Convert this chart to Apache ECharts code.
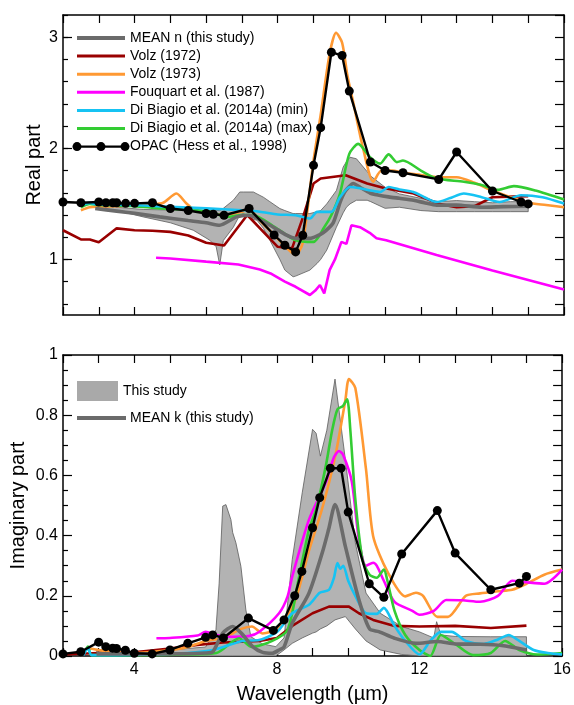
<!DOCTYPE html>
<html>
<head>
<meta charset="utf-8">
<script src="https://cdn.jsdelivr.net/npm/echarts@6/dist/echarts.min.js"></script>
<style>
html,body{margin:0;padding:0;background:#fff;}
#chart{width:574px;height:705px;}
</style>
</head>
<body>
<div id="chart"></div>
<script>
// ---------- tick / label values ----------
const xLabelValues = [4, 8, 12, 16];
const nLabelValues = [1, 2, 3];
const nTickValues = [0.6, 0.8, 1.0, 1.2, 1.4, 1.6, 1.8, 2.0, 2.2, 2.4, 2.6, 2.8, 3.0, 3.2];

// ---------- OPAC (Hess et al., 1998) ----------
const opacWl = [2.0, 2.5, 3.0, 3.2, 3.392, 3.5, 3.75, 4.0, 4.5, 5.0, 5.5, 6.0, 6.2, 6.5, 7.2, 7.9, 8.2, 8.5, 8.7, 9.0, 9.2, 9.5, 9.8, 10.0, 10.591, 11.0, 11.5, 12.5, 13.0, 14.0, 14.8, 15.0];
const opacN = [1.517, 1.51, 1.517, 1.51, 1.51, 1.51, 1.505, 1.505, 1.51, 1.458, 1.44, 1.413, 1.407, 1.398, 1.458, 1.22, 1.128, 1.068, 1.218, 1.847, 2.186, 2.865, 2.835, 2.515, 1.877, 1.80, 1.78, 1.72, 1.967, 1.616, 1.517, 1.50];
const opacK = [0.007, 0.014, 0.046, 0.031, 0.026, 0.025, 0.019, 0.009, 0.007, 0.02, 0.042, 0.062, 0.07, 0.06, 0.126, 0.085, 0.12, 0.2, 0.281, 0.426, 0.526, 0.624, 0.624, 0.478, 0.24, 0.195, 0.339, 0.483, 0.342, 0.22, 0.242, 0.264];

// ---------- Volz (1972) ----------
const volz72WlN = [2.0, 2.5, 2.75, 3.0, 3.5, 4.0, 4.5, 5.0, 5.5, 5.83, 6.0, 6.5, 7.15, 8.0, 8.4, 8.71, 9.0, 9.2, 9.9, 10.5, 11.0, 11.8, 12.5, 13.0, 13.5, 14.0, 15.0];
const volz72N = [1.263, 1.18, 1.18, 1.155, 1.28, 1.263, 1.258, 1.248, 1.215, 1.173, 1.15, 1.125, 1.40, 1.114, 1.10, 1.383, 1.683, 1.728, 1.757, 1.683, 1.64, 1.593, 1.50, 1.47, 1.48, 1.56, 1.57];
const volz72WlK = [2.0, 3.0, 4.0, 5.0, 5.77, 6.5, 7.5, 8.0, 8.43, 9.0, 9.46, 10.02, 10.3, 10.7, 11.3, 12.0, 13.0, 14.0, 15.0];
const volz72K = [0.005, 0.01, 0.012, 0.025, 0.037, 0.045, 0.05, 0.06, 0.1, 0.142, 0.164, 0.164, 0.142, 0.12, 0.1, 0.098, 0.1, 0.093, 0.101];

// ---------- Volz (1973) ----------
const volz73WlN = [2.5, 2.75, 3.0, 3.5, 4.0, 4.5, 4.8, 5.17, 5.45, 5.7, 6.0, 6.5, 7.0, 7.2, 7.5, 7.9, 8.2, 8.5, 8.7, 9.0, 9.2, 9.45, 9.63, 9.8, 9.95, 10.1, 10.4, 10.67, 10.9, 11.2, 11.5, 12.0, 12.5, 13.0, 13.5, 14.0, 14.5, 15.0, 15.5, 16.0];
const volz73N = [1.443, 1.47, 1.475, 1.48, 1.485, 1.495, 1.51, 1.593, 1.503, 1.44, 1.42, 1.40, 1.43, 1.45, 1.35, 1.22, 1.12, 1.04, 1.15, 1.89, 2.3, 2.85, 3.04, 2.95, 2.65, 2.43, 1.98, 1.70, 1.80, 1.80, 1.78, 1.76, 1.74, 1.74, 1.69, 1.62, 1.56, 1.51, 1.49, 1.47];
const volz73WlK = [2.5, 2.75, 3.0, 3.5, 4.0, 5.0, 5.5, 6.0, 6.5, 7.0, 7.3, 7.6, 8.0, 8.5, 8.9, 9.27, 9.63, 9.92, 10.02, 10.2, 10.5, 10.7, 11.1, 11.6, 11.9, 12.1, 12.5, 12.8, 13.3, 13.7, 14.2, 14.6, 15.0, 15.5, 16.0];
const volz73K = [0.01, 0.025, 0.02, 0.012, 0.01, 0.02, 0.03, 0.05, 0.06, 0.09, 0.098, 0.075, 0.09, 0.18, 0.35, 0.49, 0.66, 0.85, 0.92, 0.89, 0.62, 0.398, 0.28, 0.198, 0.21, 0.2, 0.13, 0.13, 0.2, 0.208, 0.215, 0.22, 0.24, 0.27, 0.287];

// ---------- Fouquart et al. (1987) ----------
const fouqWlN = [4.6, 5.0, 6.0, 6.9, 7.5, 7.8, 8.2, 8.5, 8.9, 9.05, 9.18, 9.3, 9.45, 9.6, 9.78, 9.92, 10.06, 10.3, 10.57, 10.76, 11.03, 12.44, 14.0, 16.0];
const fouqN = [1.015, 1.009, 0.98, 0.955, 0.91, 0.874, 0.80, 0.754, 0.68, 0.72, 0.77, 0.695, 0.904, 1.0, 1.158, 1.14, 1.308, 1.29, 1.24, 1.19, 1.173, 1.04, 0.90, 0.73];
const fouqWlK = [4.62, 5.0, 5.77, 6.0, 6.3, 6.76, 7.2, 7.5, 8.06, 8.3, 8.43, 8.9, 9.37, 9.6, 9.74, 9.85, 10.1, 10.3, 10.5, 10.7, 10.8, 11.0, 11.3, 11.8, 12.0, 12.4, 12.75, 13.2, 13.7, 14.2, 14.6, 15.0, 15.5, 16.0];
const fouqK = [0.059, 0.06, 0.068, 0.08, 0.07, 0.064, 0.066, 0.08, 0.142, 0.198, 0.264, 0.453, 0.576, 0.66, 0.681, 0.67, 0.58, 0.387, 0.3, 0.31, 0.3, 0.25, 0.18, 0.15, 0.137, 0.15, 0.186, 0.185, 0.18, 0.2, 0.25, 0.245, 0.24, 0.287];

// ---------- Di Biagio et al. (2014a) (min) ----------
const dbMinWlN = [2.5, 2.75, 2.9, 4.0, 5.0, 6.0, 7.0, 7.5, 8.0, 8.5, 8.9, 9.1, 9.5, 9.74, 10.02, 10.3, 10.6, 10.86, 11.1, 11.4, 11.79, 12.1, 12.44, 12.8, 13.2, 13.7, 14.2, 14.8, 15.4, 16.0];
const dbMinN = [1.488, 1.509, 1.497, 1.49, 1.473, 1.46, 1.443, 1.43, 1.405, 1.398, 1.368, 1.428, 1.428, 1.56, 1.652, 1.64, 1.62, 1.607, 1.652, 1.63, 1.607, 1.56, 1.517, 1.55, 1.593, 1.56, 1.517, 1.578, 1.56, 1.503];
const dbMinWlK = [2.57, 2.7, 2.8, 3.5, 4.5, 5.5, 6.2, 7.04, 7.5, 8.0, 8.43, 8.9, 9.2, 9.46, 9.6, 9.7, 9.78, 9.86, 10.0, 10.2, 10.5, 10.8, 11.0, 11.3, 11.6, 12.0, 12.3, 12.6, 12.9, 13.3, 13.8, 14.2, 14.5, 14.8, 15.2, 15.6, 16.0];
const dbMinK = [0.003, 0.026, 0.003, 0.003, 0.005, 0.01, 0.02, 0.05, 0.053, 0.08, 0.142, 0.17, 0.21, 0.22, 0.26, 0.309, 0.29, 0.3, 0.25, 0.2, 0.142, 0.14, 0.16, 0.1, 0.05, 0.005, 0.05, 0.08, 0.08, 0.05, 0.04, 0.055, 0.07, 0.05, 0.02, 0.01, 0.005];

// ---------- Di Biagio et al. (2014a) (max) ----------
const dbMaxWlN = [2.5, 2.75, 3.0, 4.0, 4.7, 5.5, 6.1, 6.57, 7.0, 7.3, 7.97, 8.5, 9.0, 9.3, 9.5, 9.74, 10.0, 10.25, 10.58, 10.86, 11.1, 11.33, 11.5, 12.0, 12.44, 13.2, 13.7, 14.15, 14.6, 15.2, 16.0];
const dbMaxN = [1.47, 1.5, 1.49, 1.48, 1.46, 1.45, 1.428, 1.383, 1.40, 1.40, 1.28, 1.173, 1.158, 1.29, 1.4, 1.593, 1.95, 2.04, 1.92, 1.862, 1.946, 1.876, 1.89, 1.80, 1.728, 1.70, 1.67, 1.626, 1.66, 1.62, 1.539];
const dbMaxWlK = [2.57, 2.7, 2.8, 4.0, 5.5, 6.3, 6.94, 7.3, 7.87, 8.3, 8.6, 8.9, 9.1, 9.37, 9.55, 9.7, 9.85, 9.97, 10.06, 10.2, 10.4, 10.6, 10.8, 11.0, 11.1, 11.3, 11.6, 12.0, 12.3, 12.6, 13.0, 13.5, 14.0, 14.4, 14.8, 15.3, 16.0];
const dbMaxK = [0.005, 0.031, 0.003, 0.003, 0.005, 0.01, 0.059, 0.03, 0.05, 0.087, 0.25, 0.42, 0.487, 0.63, 0.75, 0.82, 0.83, 0.853, 0.75, 0.52, 0.32, 0.27, 0.26, 0.287, 0.25, 0.15, 0.07, 0.02, 0.0, 0.07, 0.04, 0.003, 0.01, 0.05, 0.02, 0.005, 0.01];

// ---------- This study: MEAN n and range ----------
const meanWlN = [2.9, 3.5, 4.0, 4.7, 5.5, 6.0, 6.38, 6.85, 7.2, 7.78, 8.25, 8.5, 8.9, 9.27, 9.55, 9.75, 9.9, 10.11, 10.3, 10.58, 10.8, 11.1, 11.4, 11.8, 12.1, 12.44, 13.0, 13.7, 14.3, 15.0];
const meanN = [1.458, 1.435, 1.415, 1.383, 1.35, 1.33, 1.308, 1.383, 1.398, 1.308, 1.218, 1.19, 1.19, 1.24, 1.33, 1.52, 1.62, 1.683, 1.65, 1.598, 1.58, 1.563, 1.55, 1.532, 1.51, 1.488, 1.49, 1.47, 1.475, 1.479];
const bandWlN = [2.9, 3.5, 4.24, 5.0, 5.64, 6.1, 6.28, 6.38, 6.48, 6.76, 6.94, 7.04, 7.32, 7.42, 7.6, 7.78, 8.06, 8.2, 8.43, 8.5, 8.9, 9.1, 9.2, 9.37, 9.64, 9.83, 9.92, 10.02, 10.2, 10.5, 10.6, 11.0, 11.4, 12.0, 12.5, 13.0, 13.5, 14.0, 14.5, 15.0];
const bandHiN = [1.49, 1.47, 1.45, 1.445, 1.44, 1.44, 1.44, 1.44, 1.46, 1.533, 1.607, 1.607, 1.607, 1.59, 1.56, 1.52, 1.458, 1.44, 1.413, 1.413, 1.413, 1.43, 1.44, 1.5, 1.62, 1.832, 1.88, 1.92, 1.906, 1.79, 1.75, 1.65, 1.59, 1.55, 1.52, 1.53, 1.52, 1.51, 1.52, 1.52];
const bandLoN = [1.47, 1.44, 1.383, 1.33, 1.263, 1.173, 1.114, 0.95, 1.17, 1.29, 1.40, 1.413, 1.36, 1.353, 1.28, 1.173, 1.0, 0.904, 0.844, 0.85, 0.904, 0.964, 1.0, 1.084, 1.29, 1.42, 1.47, 1.5, 1.533, 1.533, 1.52, 1.46, 1.47, 1.44, 1.43, 1.43, 1.43, 1.43, 1.43, 1.43];

// ---------- This study: MEAN k and range ----------
const meanWlK = [2.94, 4.0, 5.0, 6.0, 6.2, 6.48, 6.76, 7.0, 7.32, 7.6, 7.87, 8.06, 8.2, 8.43, 8.9, 9.27, 9.45, 9.63, 9.92, 10.3, 10.6, 10.86, 11.3, 11.9, 12.5, 13.0, 13.7, 14.3, 15.0];
const meanK = [0.007, 0.007, 0.007, 0.01, 0.014, 0.076, 0.098, 0.076, 0.031, 0.012, 0.009, 0.02, 0.03, 0.109, 0.209, 0.342, 0.42, 0.503, 0.364, 0.187, 0.09, 0.081, 0.059, 0.042, 0.048, 0.04, 0.039, 0.035, 0.02];
const bandWlK = [2.94, 4.0, 5.0, 6.0, 6.29, 6.38, 6.48, 6.57, 6.71, 6.76, 6.85, 6.99, 7.13, 7.27, 7.6, 7.97, 8.2, 8.43, 8.71, 9.0, 9.1, 9.22, 9.4, 9.63, 9.92, 10.2, 10.5, 10.9, 11.5, 12.0, 12.4, 12.48, 12.6, 13.0, 14.0, 15.0];
const bandHiK = [0.015, 0.015, 0.02, 0.03, 0.087, 0.242, 0.498, 0.503, 0.453, 0.41, 0.376, 0.298, 0.153, 0.064, 0.04, 0.031, 0.06, 0.32, 0.542, 0.753, 0.74, 0.664, 0.75, 0.92, 0.653, 0.376, 0.209, 0.142, 0.098, 0.08, 0.06, 0.114, 0.07, 0.065, 0.064, 0.064];
const bandLoK = [0, 0, 0, 0, 0, 0, 0, 0, 0, 0, 0, 0, 0, 0, 0, 0, 0.02, 0.042, 0.06, 0.076, 0.08, 0.09, 0.1, 0.12, 0.131, 0.09, 0.05, 0.02, 0.005, 0, 0, 0, 0, 0, 0, 0];

// ---------- styling ----------
const C = {
  mean: '#6b6b6b', volz72: '#990000', volz73: '#ff9933', fouq: '#ff00ff',
  dbMin: '#16c3f3', dbMax: '#33cc33', opac: '#000000', band: '#b3b3b3', bandEdge: '#5c5c5c'
};
const FONT = '"Liberation Sans", Arial, sans-serif';

function pairs(xs, ys) { return xs.map((x, i) => [x, ys[i]]); }

function bandSeries(xs, lo, hi, xi, yi) {
  return {
    type: 'custom', xAxisIndex: xi, yAxisIndex: yi, silent: true, clip: true, z: 1,
    data: [[xs[0], lo[0]]],
    renderItem: function (params, api) {
      const pts = [];
      for (let i = 0; i < xs.length; i++) pts.push(api.coord([xs[i], hi[i]]));
      for (let i = xs.length - 1; i >= 0; i--) pts.push(api.coord([xs[i], lo[i]]));
      return { type: 'polygon', shape: { points: pts }, style: { fill: C.band, stroke: C.bandEdge, lineWidth: 0.8 } };
    }
  };
}

function lineSeries(name, xs, ys, color, xi, yi, opts) {
  return Object.assign({
    type: 'line', name: name, xAxisIndex: xi, yAxisIndex: yi,
    data: pairs(xs, ys), showSymbol: false, symbol: 'none', silent: true,
    lineStyle: { color: color, width: 2.6 }, itemStyle: { color: color }, z: 3
  }, opts || {});
}

function opacSeries(ys, xi, yi) {
  return {
    type: 'line', name: 'OPAC (Hess et al., 1998)', xAxisIndex: xi, yAxisIndex: yi,
    data: pairs(opacWl, ys), symbol: 'circle', symbolSize: 9, showSymbol: true, silent: true,
    lineStyle: { color: '#000', width: 2.4 }, itemStyle: { color: '#000' }, z: 6
  };
}

const axisLineStyle = { color: '#000', width: 1.5 };
function xAx(gridIndex, position, showLabels, name) {
  return {
    type: 'value', gridIndex: gridIndex, position: position, min: 2, max: 16, interval: 1,
    axisLine: { show: true, lineStyle: axisLineStyle, onZero: false },
    axisTick: { show: true, inside: true, length: 8, lineStyle: { color: '#000', width: 1.2 } },
    axisLabel: showLabels ? {
      show: true, margin: 6, color: '#000', fontSize: 16, fontFamily: FONT,
      formatter: v => (xLabelValues.indexOf(v) >= 0 ? String(v) : '')
    } : { show: false },
    splitLine: { show: false },
    name: name || '', nameLocation: 'middle', nameGap: 28,
    nameTextStyle: { fontSize: 20, fontFamily: FONT, color: '#000' }
  };
}

const chart = echarts.init(document.getElementById('chart'), null, { renderer: 'canvas' });

const option = {
  backgroundColor: '#fff',
  animation: false,
  grid: [
    { left: 63, top: 15, width: 501, height: 300, containLabel: false },
    { left: 63, top: 355, width: 501, height: 301, containLabel: false }
  ],
  xAxis: [
    xAx(0, 'bottom', false),
    xAx(0, 'top', false),
    xAx(1, 'bottom', true, 'Wavelength (µm)'),
    xAx(1, 'top', false)
  ],
  yAxis: [
    { // 0: top left major
      type: 'value', gridIndex: 0, position: 'left', min: 0.5, max: 3.2,
      axisLine: { show: true, lineStyle: axisLineStyle },
      axisTick: { show: true, inside: true, length: 9, customValues: nLabelValues, lineStyle: { color: '#000', width: 1.2 } },
      axisLabel: { show: true, customValues: nLabelValues, margin: 5, color: '#000', fontSize: 16, fontFamily: FONT },
      splitLine: { show: false },
      name: 'Real part', nameLocation: 'middle', nameGap: 19, nameMoveOverlap: false,
      nameTextStyle: { fontSize: 20, fontFamily: FONT, color: '#000' }
    },
    { // 1: top left minor
      type: 'value', gridIndex: 0, position: 'left', min: 0.5, max: 3.2,
      axisLine: { show: false },
      axisTick: { show: true, inside: true, length: 5, customValues: nTickValues, lineStyle: { color: '#000', width: 1.2 } },
      axisLabel: { show: false }, splitLine: { show: false }
    },
    { // 2: top right
      type: 'value', gridIndex: 0, position: 'right', min: 0.5, max: 3.2,
      axisLine: { show: true, lineStyle: axisLineStyle },
      axisTick: { show: true, inside: true, length: 9, customValues: nTickValues, lineStyle: { color: '#000', width: 1.2 } },
      axisLabel: { show: false }, splitLine: { show: false }
    },
    { // 3: bottom left
      type: 'value', gridIndex: 1, position: 'left', min: 0, max: 1, interval: 0.2,
      axisLine: { show: true, lineStyle: axisLineStyle },
      axisTick: { show: true, inside: true, length: 9, lineStyle: { color: '#000', width: 1.2 } },
      minorTick: { show: true, splitNumber: 4, length: 5, lineStyle: { color: '#000', width: 1.2 } },
      axisLabel: { show: true, margin: 5, color: '#000', fontSize: 16, fontFamily: FONT },
      splitLine: { show: false }, minorSplitLine: { show: false },
      name: 'Imaginary part', nameLocation: 'middle', nameGap: 35, nameMoveOverlap: false,
      nameTextStyle: { fontSize: 20, fontFamily: FONT, color: '#000' }
    },
    { // 4: bottom right
      type: 'value', gridIndex: 1, position: 'right', min: 0, max: 1, interval: 0.05,
      axisLine: { show: true, lineStyle: axisLineStyle },
      axisTick: { show: true, inside: true, length: 9, lineStyle: { color: '#000', width: 1.2 } },
      axisLabel: { show: false }, splitLine: { show: false }
    }
  ],
  series: [
    // ----- top: real part -----
    bandSeries(bandWlN, bandLoN, bandHiN, 0, 0),
    lineSeries('Fouquart et al. (1987)', fouqWlN, fouqN, C.fouq, 0, 0),
    lineSeries('Volz (1972)', volz72WlN, volz72N, C.volz72, 0, 0),
    lineSeries('Volz (1973)', volz73WlN, volz73N, C.volz73, 0, 0, { smooth: 0.25 }),
    lineSeries('Di Biagio et al. (2014a) (max)', dbMaxWlN, dbMaxN, C.dbMax, 0, 0, { smooth: 0.25 }),
    lineSeries('MEAN n (this study)', meanWlN, meanN, C.mean, 0, 0, { lineStyle: { color: C.mean, width: 3.6 }, smooth: 0.2, z: 4 }),
    lineSeries('Di Biagio et al. (2014a) (min)', dbMinWlN, dbMinN, C.dbMin, 0, 0, { smooth: 0.25, z: 5 }),
    opacSeries(opacN, 0, 0),
    // ----- bottom: imaginary part -----
    bandSeries(bandWlK, bandLoK, bandHiK, 2, 3),
    lineSeries('Volz (1972) k', volz72WlK, volz72K, C.volz72, 2, 3),
    lineSeries('Volz (1973) k', volz73WlK, volz73K, C.volz73, 2, 3, { smooth: 0.25 }),
    lineSeries('Fouquart et al. (1987) k', fouqWlK, fouqK, C.fouq, 2, 3, { smooth: 0.25 }),
    lineSeries('Di Biagio et al. (2014a) (max) k', dbMaxWlK, dbMaxK, C.dbMax, 2, 3, { smooth: 0.25 }),
    lineSeries('Di Biagio et al. (2014a) (min) k', dbMinWlK, dbMinK, C.dbMin, 2, 3, { smooth: 0.25 }),
    lineSeries('MEAN k (this study)', meanWlK, meanK, C.mean, 2, 3, { lineStyle: { color: C.mean, width: 3.6 }, smooth: 0.25, z: 5 }),
    opacSeries(opacK, 2, 3)
  ],
  graphic: []
};

// ---------- legends (graphic) ----------
const topLegend = [
  { text: 'MEAN n (this study)', color: C.mean, width: 4 },
  { text: 'Volz (1972)', color: C.volz72, width: 3 },
  { text: 'Volz (1973)', color: C.volz73, width: 3 },
  { text: 'Fouquart et al. (1987)', color: C.fouq, width: 3 },
  { text: 'Di Biagio et al. (2014a) (min)', color: C.dbMin, width: 3 },
  { text: 'Di Biagio et al. (2014a) (max)', color: C.dbMax, width: 3 },
  { text: 'OPAC (Hess et al., 1998)', color: '#000', width: 2.4, dots: true }
];
const g = [];
topLegend.forEach((e, i) => {
  const y = 38 + i * 18.1;
  g.push({ type: 'line', silent: true, z: 100, shape: { x1: 77, y1: y, x2: 125, y2: y }, style: { stroke: e.color, lineWidth: e.width } });
  if (e.dots) {
    [77, 101, 125].forEach(cx => g.push({ type: 'circle', silent: true, z: 101, shape: { cx: cx, cy: y, r: 4.5 }, style: { fill: '#000' } }));
  }
  g.push({ type: 'text', silent: true, z: 100, x: 130, y: y, style: { text: e.text, fill: '#000', fontSize: 14, fontFamily: FONT, verticalAlign: 'middle', align: 'left' } });
});
g.push({ type: 'rect', silent: true, z: 100, shape: { x: 77, y: 381, width: 41, height: 20 }, style: { fill: '#a9a9a9' } });
g.push({ type: 'text', silent: true, z: 100, x: 123, y: 391, style: { text: 'This study', fill: '#000', fontSize: 14, fontFamily: FONT, verticalAlign: 'middle', align: 'left' } });
g.push({ type: 'line', silent: true, z: 100, shape: { x1: 77, y1: 418, x2: 126, y2: 418 }, style: { stroke: C.mean, lineWidth: 4 } });
g.push({ type: 'text', silent: true, z: 100, x: 130, y: 418, style: { text: 'MEAN k (this study)', fill: '#000', fontSize: 14, fontFamily: FONT, verticalAlign: 'middle', align: 'left' } });
option.graphic = g;

chart.setOption(option);
</script>
</body>
</html>
